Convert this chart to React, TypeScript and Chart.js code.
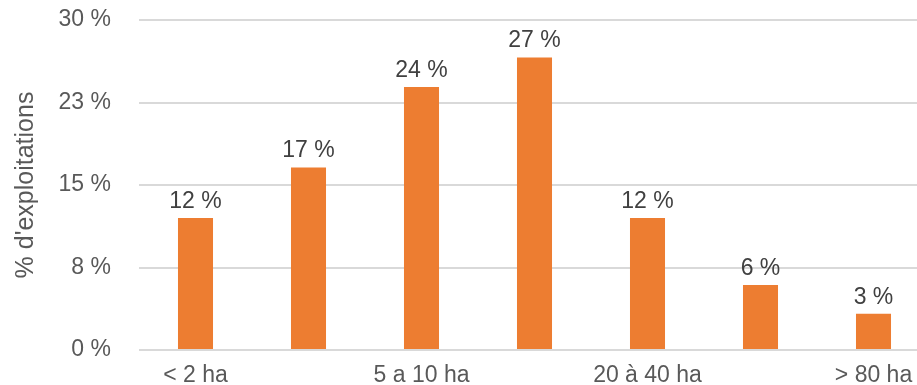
import React, { useEffect, useRef } from "react";
import { Chart, registerables } from "chart.js";

Chart.register(...registerables);

// Farm size classes
const categories = ["< 2 ha", "2 à 5 ha", "5 a 10 ha", "10 à 20 ha", "20 à 40 ha", "40 à 80 ha", "> 80 ha"];
// Share of farms in each class (%)
const shares = [12.0, 16.6, 23.9, 26.6, 12.0, 5.9, 3.3];
// Y axis range and step
const yMax = 30;
const yStep = 7.5;
const yTitle = "% d'exploitations";

const FONT = "'Liberation Sans', Arial, Helvetica, sans-serif";
const BAR = "#ED7D31";
const GRID = "#D9D9D9";
const TICK = "#595959";
const LABEL = "#404040";
const CLEAR = "rgba(0,0,0,0)";

const pct = (v: number) => `${Math.round(v)} %`;

// Writes each bar's value just above it
const valueLabels = {
  id: "valueLabels",
  afterDatasetsDraw(chart: any) {
    const { ctx } = chart;
    const meta = chart.getDatasetMeta(0);
    const data = chart.data.datasets[0].data as number[];
    ctx.save();
    ctx.font = `23px ${FONT}`;
    ctx.fillStyle = LABEL;
    ctx.textAlign = "center";
    ctx.textBaseline = "alphabetic";
    meta.data.forEach((bar: any, i: number) => {
      ctx.fillText(pct(data[i]), bar.x, bar.y - 10);
    });
    ctx.restore();
  },
};

export default function App() {
  const ref = useRef<HTMLCanvasElement | null>(null);

  useEffect(() => {
    if (!ref.current) return;
    const chart = new Chart(ref.current, {
      type: "bar",
      data: {
        labels: categories,
        datasets: [
          {
            data: shares,
            backgroundColor: BAR,
            borderWidth: 0,
            barPercentage: 0.31,
            categoryPercentage: 1,
          },
        ],
      },
      options: {
        animation: false,
        responsive: false,
        layout: { padding: { top: 20, left: 0, right: 0, bottom: 0 } },
        plugins: {
          legend: { display: false },
          tooltip: { enabled: false },
        },
        scales: {
          x: {
            grid: { display: false, drawTicks: true, tickLength: 12, tickColor: CLEAR },
            border: { display: false },
            ticks: {
              autoSkip: false,
              maxRotation: 0,
              padding: 0,
              color: TICK,
              font: { family: FONT, size: 23 },
              callback: (_v: any, i: number) => (i % 2 === 0 ? categories[i] : ""),
            },
            afterFit: (s: any) => {
              s.height = 35;
            },
          },
          y: {
            min: 0,
            max: yMax,
            grid: { color: GRID, lineWidth: 2, drawTicks: true, tickLength: 28, tickColor: CLEAR },
            border: { display: false },
            ticks: {
              stepSize: yStep,
              padding: 0,
              color: TICK,
              font: { family: FONT, size: 23 },
              callback: (v: any) => pct(Number(v)),
            },
            title: {
              display: true,
              text: yTitle,
              color: TICK,
              font: { family: FONT, size: 25 },
              padding: { top: 11, bottom: 0 },
            },
            afterFit: (s: any) => {
              s.width = 139;
            },
          },
        },
      },
      plugins: [valueLabels],
    });
    return () => chart.destroy();
  }, []);

  return (
    <div
      style={{
        position: "fixed",
        left: 0,
        top: 0,
        width: 917,
        height: 385,
        overflow: "hidden",
        background: "#fff",
      }}
    >
      <canvas ref={ref} width={930} height={385} style={{ display: "block" }} />
    </div>
  );
}
